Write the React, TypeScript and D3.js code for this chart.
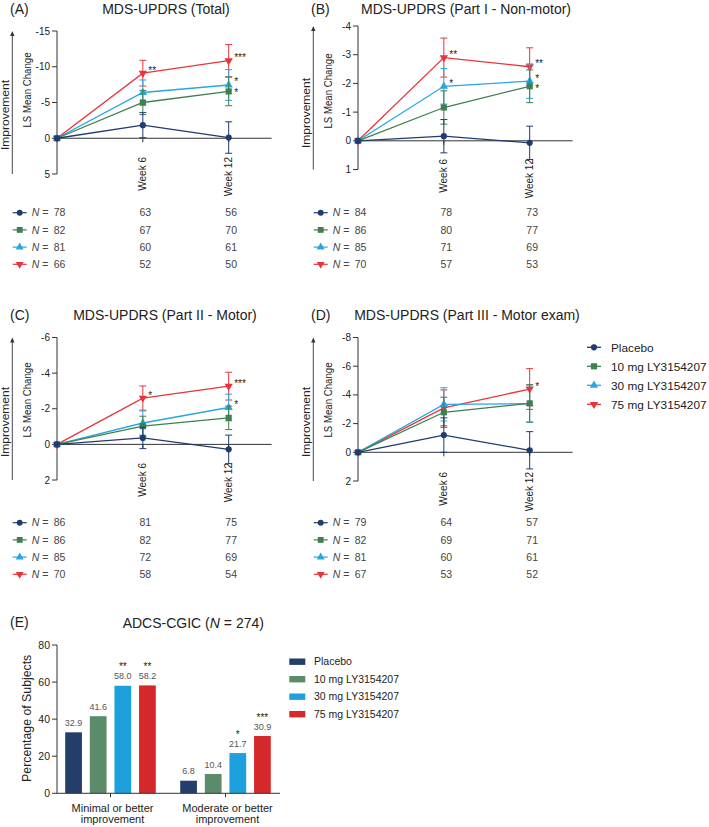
import React from "react";
import * as d3 from "d3";

// ---------- data ----------
const seriesNames = ["Placebo", "10 mg LY3154207", "30 mg LY3154207", "75 mg LY3154207"];
const weeks = [0, 6, 12];
const weekTicks = [6, 12];
const weekLabels = ["Week 6", "Week 12"];

const totalMean = [[0, -1.83, -0.1], [0, -5.0, -6.55], [0, -6.4, -7.45], [0, -9.1, -10.85]];
const totalErr = [[0, 1.75, 2.2], [0, 1.7, 2.0], [0, 1.75, 2.15], [0, 1.8, 2.25]];
const totalN = [[78, 63, 56], [82, 67, 70], [81, 60, 61], [66, 52, 50]];
const totalStars = [["", "", ""], ["", "", "*"], ["", "", "*"], ["", "**", "***"]];
const totalTicks = [-15, -10, -5, 0, 5];

const part1Mean = [[0, -0.16, 0.07], [0, -1.16, -1.9], [0, -1.9, -2.08], [0, -2.9, -2.58]];
const part1Err = [[0, 0.58, 0.58], [0, 0.58, 0.57], [0, 0.62, 0.6], [0, 0.68, 0.66]];
const part1N = [[84, 78, 73], [86, 80, 77], [85, 71, 69], [70, 57, 53]];
const part1Stars = [["", "", ""], ["", "", "*"], ["", "*", "*"], ["", "**", "**"]];
const part1Ticks = [-4, -3, -2, -1, 0, 1];

const part2Mean = [[0, -0.36, 0.28], [0, -1.02, -1.49], [0, -1.2, -2.07], [0, -2.6, -3.27]];
const part2Err = [[0, 0.6, 0.8], [0, 0.56, 0.66], [0, 0.68, 0.75], [0, 0.68, 0.78]];
const part2N = [[86, 81, 75], [86, 82, 77], [85, 72, 69], [70, 58, 54]];
const part2Stars = [["", "", ""], ["", "", ""], ["", "", "*"], ["", "*", "***"]];
const part2Ticks = [-6, -4, -2, 0, 2];

const part3Mean = [[0, -1.2, -0.14], [0, -2.79, -3.41], [0, -3.34, -3.39], [0, -3.1, -4.41]];
const part3Err = [[0, 1.2, 1.3], [0, 1.05, 1.3], [0, 1.16, 1.3], [0, 1.25, 1.42]];
const part3N = [[79, 64, 57], [82, 69, 71], [81, 60, 61], [67, 53, 52]];
const part3Stars = [["", "", ""], ["", "", ""], ["", "", ""], ["", "", "*"]];
const part3Ticks = [-8, -6, -4, -2, 0, 2];

const cgicCategories = [["Minimal or better", "improvement"], ["Moderate or better", "improvement"]];
const cgicValues = [[32.9, 41.6, 58.0, 58.2], [6.8, 10.4, 21.7, 30.9]];
const cgicStars = [["", "", "**", "**"], ["", "", "*", "***"]];
const cgicTicks = [0, 20, 40, 60, 80];

// ---------- style ----------
const FONT = "'Liberation Sans', Arial, Helvetica, sans-serif";
const lineColors = ["#1f3b70", "#3f7f50", "#29a6e0", "#e8353a"];
const barColors = ["#243e6b", "#5b8b68", "#1da1dc", "#d6282b"];
const AX = "#333";
const TXT = "#222";

const symbolTypes = [d3.symbolCircle, d3.symbolSquare, d3.symbolTriangle, d3.symbolTriangle];
const symbolSizes = [30, 38, 30, 30];
function Marker({ i, x, y, scale = 1 }: { i: number; x: number; y: number; scale?: number }) {
  const p = d3.symbol().type(symbolTypes[i]).size(symbolSizes[i] * scale)() as string;
  const rot = i === 3 ? " rotate(180)" : "";
  return <path d={p} transform={`translate(${x},${y})${rot}`} fill={lineColors[i]} />;
}

const panels = [
  { label: "(A)", title: "MDS-UPDRS (Total)", mean: totalMean, err: totalErr, n: totalN, stars: totalStars, ticks: totalTicks,
    x0: 57, yTop: 31, yBot: 174, titleX: 166, titleY: 13.5, weekY: 157, tableY: 212.7, lsY: 90, impY: 115 },
  { label: "(B)", title: "MDS-UPDRS (Part I - Non-motor)", mean: part1Mean, err: part1Err, n: part1N, stars: part1Stars, ticks: part1Ticks,
    x0: 358, yTop: 26, yBot: 169.5, titleX: 466, titleY: 13.5, weekY: 159, tableY: 212.7, lsY: 91, impY: 113 },
  { label: "(C)", title: "MDS-UPDRS (Part II - Motor)", mean: part2Mean, err: part2Err, n: part2N, stars: part2Stars, ticks: part2Ticks,
    x0: 57, yTop: 337.5, yBot: 480, titleX: 165, titleY: 320, weekY: 463, tableY: 522.7, lsY: 400, impY: 422 },
  { label: "(D)", title: "MDS-UPDRS (Part III - Motor exam)", mean: part3Mean, err: part3Err, n: part3N, stars: part3Stars, ticks: part3Ticks,
    x0: 358, yTop: 337.5, yBot: 481, titleX: 467, titleY: 319.5, weekY: 472, tableY: 522.7, lsY: 400, impY: 422 },
];

function LinePanel({ cfg }: { cfg: any }) {
  const x = d3.scaleLinear().domain([0, 15]).range([cfg.x0, cfg.x0 + 214.6]);
  const t = cfg.ticks;
  const y = d3.scaleLinear().domain([t[t.length - 1], t[0]]).range([cfg.yBot, cfg.yTop]);
  const line = d3.line<number>().x((_, k) => x(weeks[k])).y((d) => y(d));
  const order = [3, 2, 1, 0];
  const arrowX = cfg.x0 - 44.7;

  // star label placement with simple collision avoidance per week
  const starItems: { s: string; x: number; y: number; key: string }[] = [];
  weeks.forEach((w, k) => {
    const items = cfg.stars
      .map((row: string[], i: number) => ({ s: row[k], x: x(w) + 5.5, y: y(cfg.mean[i][k]) + 0.5, key: `${i}-${k}` }))
      .filter((d: any) => d.s)
      .sort((a: any, b: any) => a.y - b.y);
    for (let j = 1; j < items.length; j++) {
      if (items[j].y - items[j - 1].y < 10.5) items[j].y = items[j - 1].y + 10.5;
    }
    starItems.push(...items);
  });

  return (
    <g>
      <text x={cfg.x0 - 47} y={cfg.titleY} fontSize={14} fill={TXT}>{cfg.label}</text>
      <text x={cfg.titleX} y={cfg.titleY} fontSize={14} fill={TXT} textAnchor="middle">{cfg.title}</text>
      {/* improvement arrow */}
      <line x1={arrowX} x2={arrowX} y1={cfg.yBot} y2={cfg.yTop + 3} stroke={AX} strokeWidth={0.9} />
      <path d={`M${arrowX - 2.2},${cfg.yTop + 5} L${arrowX},${cfg.yTop} L${arrowX + 2.2},${cfg.yTop + 5} Z`} fill={AX} />
      <text transform={`translate(${arrowX - 3.5},${cfg.impY}) rotate(-90)`} textAnchor="middle" fontSize={10.5} textLength={70} lengthAdjust="spacingAndGlyphs" fill={TXT}>Improvement</text>
      <text transform={`translate(${cfg.x0 - 26.5},${cfg.lsY}) rotate(-90)`} textAnchor="middle" fontSize={11} textLength={75} lengthAdjust="spacingAndGlyphs" fill={TXT}>LS Mean Change</text>
      {/* y axis */}
      <line x1={cfg.x0} x2={cfg.x0} y1={y(t[0])} y2={y(t[t.length - 1])} stroke={AX} strokeWidth={1} />
      {t.map((v: number) => (
        <g key={v}>
          <line x1={cfg.x0 - 5} x2={cfg.x0} y1={y(v)} y2={y(v)} stroke={AX} strokeWidth={1} />
          <text x={cfg.x0 - 7} y={y(v)} dy="0.35em" textAnchor="end" fontSize={10} fill={TXT}>{String(v)}</text>
        </g>
      ))}
      {/* zero axis */}
      <line x1={cfg.x0} x2={x(15)} y1={y(0)} y2={y(0)} stroke={AX} strokeWidth={1} />
      {weekTicks.map((w, k) => (
        <g key={w}>
          <line x1={x(w)} x2={x(w)} y1={y(0)} y2={y(0) + 4} stroke={AX} strokeWidth={1} />
          <text transform={`translate(${x(w)},${cfg.weekY}) rotate(-90)`} dy="0.35em" textAnchor="end" fontSize={10} fill={TXT}>{weekLabels[k]}</text>
        </g>
      ))}
      {/* series */}
      {order.map((i) => (
        <g key={i}>
          {cfg.mean[i].map((m: number, k: number) => {
            const e = cfg.err[i][k];
            if (!e) return null;
            const xx = x(weeks[k]);
            return (
              <g key={k} stroke={lineColors[i]} strokeWidth={1}>
                <line x1={xx} x2={xx} y1={y(m - e)} y2={y(m + e)} />
                <line x1={xx - 3.5} x2={xx + 3.5} y1={y(m - e)} y2={y(m - e)} />
                <line x1={xx - 3.5} x2={xx + 3.5} y1={y(m + e)} y2={y(m + e)} />
              </g>
            );
          })}
          <path d={line(cfg.mean[i]) as string} fill="none" stroke={lineColors[i]} strokeWidth={1.3} />
          {cfg.mean[i].map((m: number, k: number) => (
            <Marker key={k} i={i} x={x(weeks[k])} y={y(m)} />
          ))}
        </g>
      ))}
      {/* stars */}
      {starItems.map((d) => (
        <text key={d.key} x={d.x} y={d.y} fontSize={10} fill={TXT}>{d.s}</text>
      ))}
      {/* N table */}
      {cfg.n.map((row: number[], i: number) => {
        const cy = cfg.tableY + i * 17.2;
        return (
          <g key={i}>
            <line x1={cfg.x0 - 44.3} x2={cfg.x0 - 30.3} y1={cy} y2={cy} stroke={lineColors[i]} strokeWidth={1.2} />
            <Marker i={i} x={cfg.x0 - 37.3} y={cy} scale={0.9} />
            <text x={cfg.x0 - 25.3} y={cy} dy="0.36em" fontSize={10.5} fill="#444">
              <tspan fontStyle="italic">N</tspan> =
            </text>
            {row.map((v: number, k: number) => (
              <text key={k} x={x(weeks[k]) + 2.5} y={cy} dy="0.36em" textAnchor="middle" fontSize={10.5} fill="#444">{v}</text>
            ))}
          </g>
        );
      })}
    </g>
  );
}

function LineLegend() {
  return (
    <g>
      {seriesNames.map((s, i) => {
        const cy = 347.3 + i * 19;
        return (
          <g key={s}>
            <line x1={587} x2={601} y1={cy} y2={cy} stroke={lineColors[i]} strokeWidth={1.3} />
            <Marker i={i} x={594} y={cy} />
            <text x={611} y={cy} dy="0.36em" fontSize={11.8} fill={TXT}>{s}</text>
          </g>
        );
      })}
    </g>
  );
}

function BarPanel() {
  const x0 = 57;
  const y = d3.scaleLinear().domain([0, 80]).range([793.3, 645]);
  const gx = d3.scaleBand<number>().domain([0, 1]).range([53, 283]).padding(0);
  const sx = d3.scaleBand<number>().domain([0, 1, 2, 3]).range([-45.3, 45.3]).paddingInner(0.32).paddingOuter(0);
  return (
    <g>
      <text x={10} y={626.7} fontSize={14} fill={TXT}>(E)</text>
      <text x={193.3} y={628} fontSize={14} fill={TXT} textAnchor="middle">
        ADCS-CGIC (<tspan fontStyle="italic">N</tspan> = 274)
      </text>
      <text transform={`translate(31,718.3) rotate(-90)`} textAnchor="middle" fontSize={12.3} fill={TXT}>Percentage of Subjects</text>
      <line x1={x0} x2={x0} y1={y(0)} y2={y(80)} stroke={AX} strokeWidth={1} />
      {cgicTicks.map((v) => (
        <g key={v}>
          <line x1={x0 - 5} x2={x0} y1={y(v)} y2={y(v)} stroke={AX} strokeWidth={1} />
          <text x={x0 - 7} y={y(v)} dy="0.35em" textAnchor="end" fontSize={10.5} fill={TXT}>{v}</text>
        </g>
      ))}
      {cgicValues.map((vals, g) => {
        const cx = (gx(g) as number) + gx.bandwidth() / 2;
        return (
          <g key={g}>
            {vals.map((v, i) => {
              const bx = cx + (sx(i) as number);
              const bw = sx.bandwidth();
              return (
                <g key={i}>
                  <rect x={bx} y={y(v)} width={bw} height={y(0) - y(v)} fill={barColors[i]} />
                  <text x={bx + bw / 2} y={y(v) - 6.5} textAnchor="middle" fontSize={9} fill="#555">{v.toFixed(1)}</text>
                  {cgicStars[g][i] ? (
                    <text x={bx + bw / 2} y={y(v) - 15.5} textAnchor="middle" fontSize={10} fill="#222">{cgicStars[g][i]}</text>
                  ) : null}
                </g>
              );
            })}
            <line x1={cx} x2={cx} y1={y(0)} y2={y(0) + 4} stroke={AX} strokeWidth={1} />
            <text x={cx + 2} y={811.5} textAnchor="middle" fontSize={11} fill={TXT}>{cgicCategories[g][0]}</text>
            <text x={cx + 2} y={822.5} textAnchor="middle" fontSize={11} fill={TXT}>{cgicCategories[g][1]}</text>
          </g>
        );
      })}
      <line x1={x0} x2={280} y1={y(0)} y2={y(0)} stroke={AX} strokeWidth={1} />
      {seriesNames.map((s, i) => {
        const cy = 661.7 + i * 17.5;
        return (
          <g key={s}>
            <rect x={289.3} y={cy - 3.2} width={16} height={6.4} fill={barColors[i]} />
            <text x={314} y={cy} dy="0.36em" fontSize={10.5} fill={TXT}>{s}</text>
          </g>
        );
      })}
    </g>
  );
}

export default function App() {
  return (
    <svg width={709} height={827} style={{ position: "absolute", left: 0, top: 0, background: "#fff" }} fontFamily={FONT}>
      <rect width={709} height={827} fill="#fff" />
      {panels.map((p) => (
        <LinePanel key={p.label} cfg={p} />
      ))}
      <LineLegend />
      <BarPanel />
    </svg>
  );
}
